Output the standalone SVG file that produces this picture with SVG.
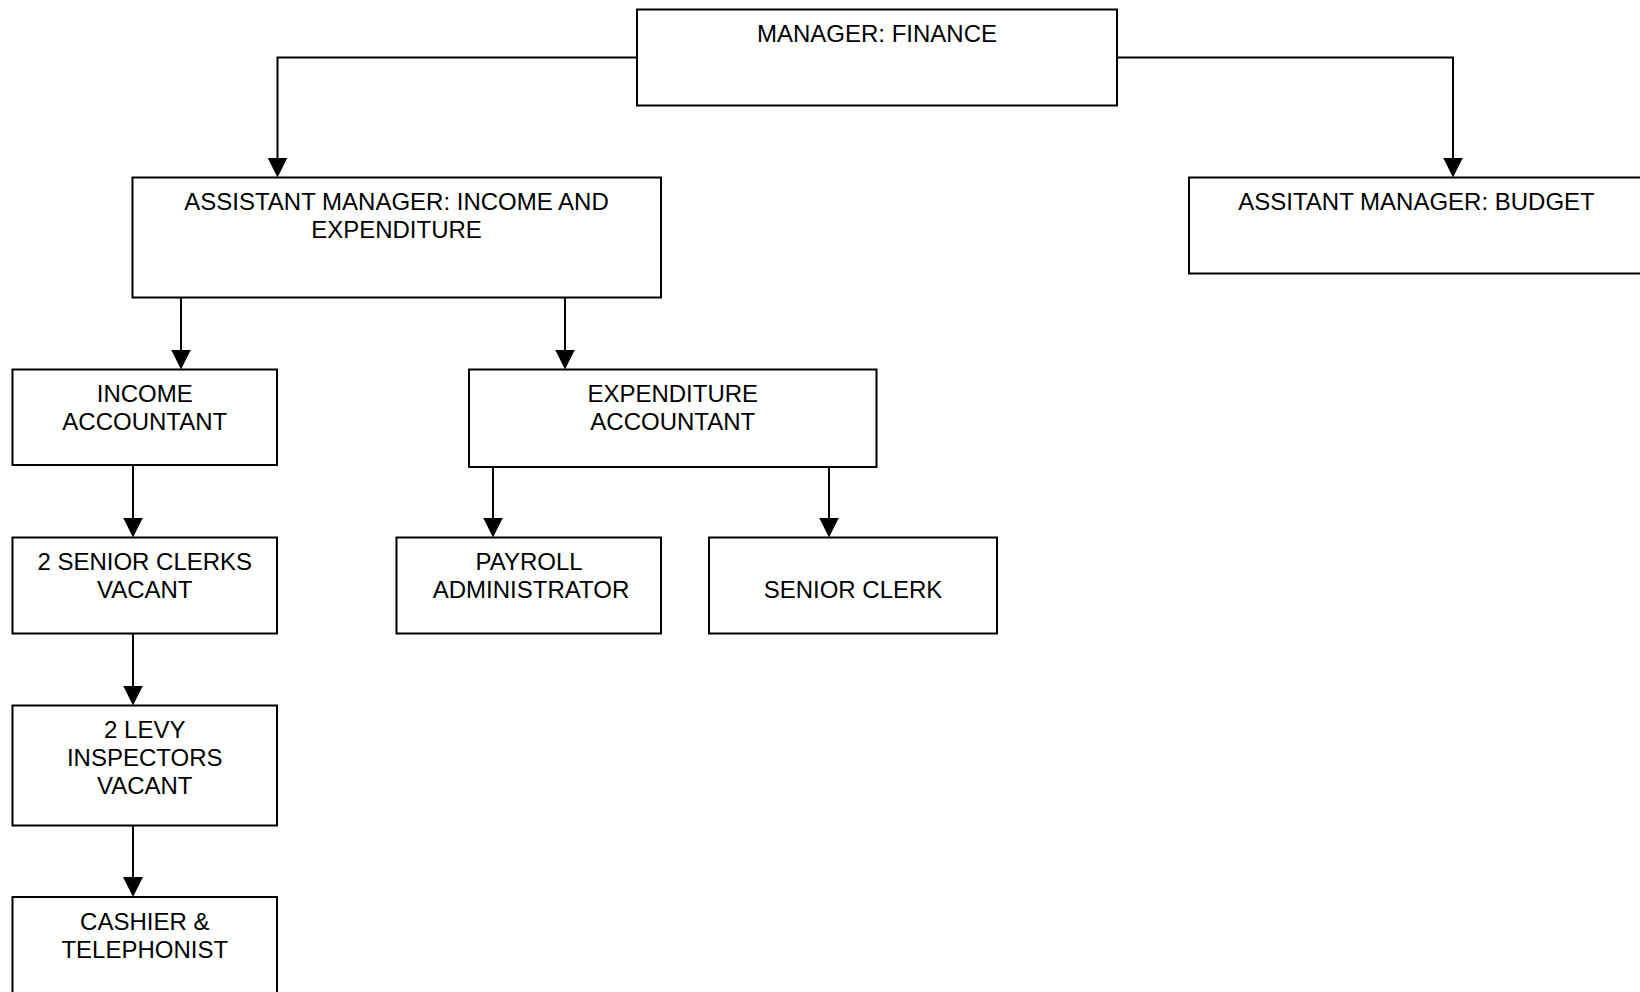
<svg xmlns="http://www.w3.org/2000/svg" width="1640" height="992" viewBox="0 0 1640 992">
  <style>
    .box { fill: #ffffff; stroke: #000000; stroke-width: 2; }
    .lbl { font-family: "Liberation Sans", Arial, sans-serif; font-size: 24px; fill: #000000; text-anchor: middle; }
    .link { fill: none; stroke: #000000; stroke-width: 2; marker-end: url(#arrow); }
  </style>
  <defs>
    <!-- solid triangular arrowhead, 20 x 20, tip 4px past the line end -->
    <marker id="arrow" markerUnits="userSpaceOnUse" viewBox="0 0 20 20" refX="16" refY="10" markerWidth="20" markerHeight="20" orient="auto">
      <path d="M0,0 L20,10 L0,20 Z" fill="#000000"/>
    </marker>
  </defs>
  <rect width="1640" height="992" fill="#ffffff"/>

  <g id="connectors">
    <path class="link" d="M637,57.5 H277.5 V173.5"/>
    <path class="link" d="M1117,57.5 H1453 V173.5"/>
    <path class="link" d="M181,297.5 V365.5"/>
    <path class="link" d="M565,297.5 V365.5"/>
    <path class="link" d="M133,465 V533.5"/>
    <path class="link" d="M133,633.5 V701.5"/>
    <path class="link" d="M133,825.5 V893"/>
    <path class="link" d="M493,467 V533.5"/>
    <path class="link" d="M829,467 V533.5"/>
  </g>

  <g id="manager-finance">
    <rect class="box" x="637" y="9.5" width="480" height="96"/>
    <text class="lbl" x="877" y="42">MANAGER: FINANCE</text>
  </g>

  <g id="asst-manager-income-expenditure">
    <rect class="box" x="132.5" y="177.5" width="528.5" height="120"/>
    <text class="lbl" x="396.5" y="210">ASSISTANT MANAGER: INCOME AND</text>
    <text class="lbl" x="396.5" y="237.5">EXPENDITURE</text>
  </g>

  <g id="asst-manager-budget">
    <rect class="box" x="1189" y="177.5" width="470" height="96"/>
    <text class="lbl" x="1416.5" y="210">ASSITANT MANAGER: BUDGET</text>
  </g>

  <g id="income-accountant">
    <rect class="box" x="12.5" y="369.5" width="264.5" height="95.5"/>
    <text class="lbl" x="144.75" y="402">INCOME</text>
    <text class="lbl" x="144.75" y="429.5">ACCOUNTANT</text>
  </g>

  <g id="expenditure-accountant">
    <rect class="box" x="469" y="369.5" width="407.5" height="97.5"/>
    <text class="lbl" x="672.75" y="402">EXPENDITURE</text>
    <text class="lbl" x="672.75" y="429.5">ACCOUNTANT</text>
  </g>

  <g id="senior-clerks-income">
    <rect class="box" x="12.5" y="537.5" width="264.5" height="96"/>
    <text class="lbl" x="144.75" y="570">2 SENIOR CLERKS</text>
    <text class="lbl" x="144.75" y="598">VACANT</text>
  </g>

  <g id="payroll-administrator">
    <rect class="box" x="396.5" y="537.5" width="264.5" height="96"/>
    <text class="lbl" x="529" y="570">PAYROLL</text>
    <text class="lbl" x="531" y="598">ADMINISTRATOR</text>
  </g>

  <g id="senior-clerk">
    <rect class="box" x="709" y="537.5" width="288" height="96"/>
    <text class="lbl" x="853" y="598">SENIOR CLERK</text>
  </g>

  <g id="levy-inspectors">
    <rect class="box" x="12.5" y="705.5" width="264.5" height="120"/>
    <text class="lbl" x="144.75" y="738">2 LEVY</text>
    <text class="lbl" x="144.75" y="766">INSPECTORS</text>
    <text class="lbl" x="144.75" y="794">VACANT</text>
  </g>

  <g id="cashier-telephonist">
    <rect class="box" x="12.5" y="897" width="264.5" height="120"/>
    <text class="lbl" x="144.75" y="930">CASHIER &amp;</text>
    <text class="lbl" x="144.75" y="958">TELEPHONIST</text>
  </g>
</svg>
